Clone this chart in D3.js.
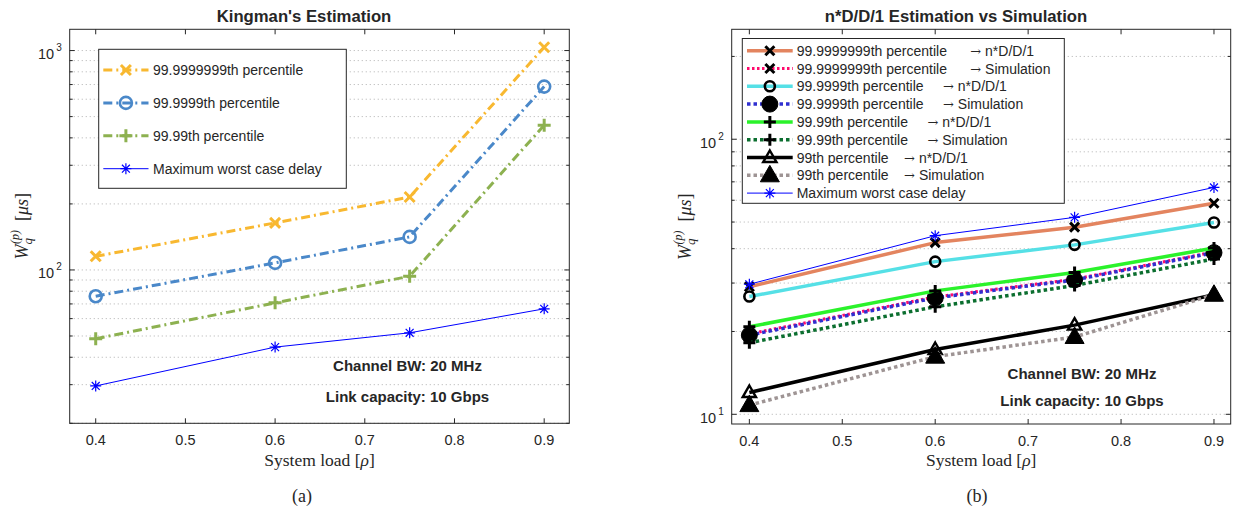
<!DOCTYPE html>
<html>
<head>
<meta charset="utf-8">
<script src="https://cdn.jsdelivr.net/npm/d3@7"></script>
<style>
  body { margin: 0; background: #fff; }
  svg text { font-family: "Liberation Sans", Arial, Helvetica, sans-serif; fill: #262626; }
  svg text.serif { font-family: "Liberation Serif", "Times New Roman", serif; }
</style>
</head>
<body>
<svg id="fig" width="1233" height="508"></svg>
<script>
// ---- data ----
const loads = [0.4, 0.6, 0.75, 0.9];
const xTicks = [0.4, 0.5, 0.6, 0.7, 0.8, 0.9];

// (a) Kingman's estimation
const kingman9 = [115.4, 163.8, 215, 1036];
const kingman6 = [75.9, 107.7, 141.5, 685];
const kingman4 = [48.6, 70.8, 93.6, 457];
const worstA = [29.6, 44.5, 51.7, 66.5];
const labelsA = ["99.9999999th percentile", "99.9999th percentile", "99.99th percentile", "Maximum worst case delay"];

// (b) n*D/D/1 estimation vs simulation
const p9Model = [29.1, 42.1, 47.9, 58.5];
const p9Sim = [19.6, 26.7, 31.0, 38.9];
const p6Model = [26.8, 35.9, 41.3, 49.8];
const p6Sim = [19.4, 26.5, 30.8, 38.7];
const p4Model = [20.8, 28.1, 32.8, 40.2];
const p4Sim = [18.2, 24.6, 29.4, 36.7];
const p2Model = [12.0, 17.2, 21.1, 27.2];
const p2Sim = [10.8, 16.2, 19.1, 27.2];
const worstB = [29.7, 44.6, 52.0, 66.8];
const namesB = ["99.9999999th percentile", "99.9999999th percentile", "99.9999th percentile", "99.9999th percentile",
    "99.99th percentile", "99.99th percentile", "99th percentile", "99th percentile", "Maximum worst case delay"];
const methodsB = ["n*D/D/1", "Simulation", "n*D/D/1", "Simulation", "n*D/D/1", "Simulation", "n*D/D/1", "Simulation", null];
const padB = [6, 6, 5, 5, 5, 5, 4, 4, 0];

const notes = ["Channel BW: 20 MHz", "Link capacity: 10 Gbps"];

const svg = d3.select("#fig");
const axisColor = "#262626";

function markerPath(type, s) {
    if (type === "x") return `M${-s},${-s}L${s},${s}M${-s},${s}L${s},${-s}`;
    if (type === "+") return `M0,${-s}V${s}M${-s},0H${s}`;
    if (type === "*") {
        const k = s * 0.72;
        return `M0,${-s}V${s}M${-s},0H${s}M${-k},${-k}L${k},${k}M${-k},${k}L${k},${-k}`;
    }
    if (type === "^") return `M0,${-s}L${s * 0.95},${s * 0.65}L${-s * 0.95},${s * 0.65}Z`;
    return "";
}

function drawMarker(g, st, cx, cy) {
    if (!st.marker) return;
    if (st.marker === "o") {
        g.append("circle").attr("cx", cx).attr("cy", cy).attr("r", st.msize)
            .attr("fill", st.mfill || "none").attr("stroke", st.mstroke).attr("stroke-width", st.mwidth);
    } else {
        g.append("path").attr("transform", `translate(${cx},${cy})`)
            .attr("d", markerPath(st.marker, st.msize))
            .attr("fill", st.mfill || "none").attr("stroke", st.mstroke)
            .attr("stroke-width", st.mwidth).attr("stroke-linejoin", "miter");
    }
}

function drawPanel(p) {
    const x = d3.scaleLinear().domain(p.xDomain).range([p.left, p.right]);
    const y = d3.scaleLog().domain(p.yDomain).range([p.bottom, p.top]);
    const g = svg.append("g");

    // minor and major values inside the y domain
    const [y0, y1] = p.yDomain;
    const minor = [], major = [];
    for (let d = 1; d <= 1000; d *= 10) {
        for (let k = 1; k <= 9; k++) {
            const v = k * d;
            if (v >= y0 && v <= y1) {
                minor.push(v);
                if (k === 1) major.push(v);
            }
        }
    }

    g.append("rect").attr("x", p.left).attr("y", p.top)
        .attr("width", p.right - p.left).attr("height", p.bottom - p.top).attr("fill", "#fff");

    // dotted horizontal grid
    g.selectAll(".grid").data(minor).enter().append("line")
        .attr("x1", p.left).attr("x2", p.right)
        .attr("y1", d => y(d)).attr("y2", d => y(d))
        .attr("stroke", "#bdbdbd").attr("stroke-width", 1).attr("stroke-dasharray", "1.2,2.8");

    // series
    p.series.forEach(s => {
        const line = d3.line().x((d, i) => x(loads[i])).y(d => y(d));
        g.append("path").datum(s.values).attr("d", line)
            .attr("fill", "none").attr("stroke", s.color).attr("stroke-width", s.width)
            .attr("stroke-dasharray", s.dash || null).attr("stroke-linejoin", "round");
        s.values.forEach((v, i) => drawMarker(g, s, x(loads[i]), y(v)));
    });

    // box and ticks
    g.append("rect").attr("x", p.left).attr("y", p.top)
        .attr("width", p.right - p.left).attr("height", p.bottom - p.top)
        .attr("fill", "none").attr("stroke", axisColor).attr("stroke-width", 1);

    xTicks.forEach(t => {
        g.append("line").attr("x1", x(t)).attr("x2", x(t)).attr("y1", p.bottom).attr("y2", p.bottom - 5)
            .attr("stroke", axisColor);
        g.append("line").attr("x1", x(t)).attr("x2", x(t)).attr("y1", p.top).attr("y2", p.top + 5)
            .attr("stroke", axisColor);
        g.append("text").attr("x", x(t)).attr("y", p.bottom + 22).attr("text-anchor", "middle")
            .attr("font-size", 14.5).text(t.toFixed(1));
    });

    minor.forEach(v => {
        const len = major.includes(v) ? 5 : 3;
        g.append("line").attr("x1", p.left).attr("x2", p.left + len).attr("y1", y(v)).attr("y2", y(v))
            .attr("stroke", axisColor);
        g.append("line").attr("x1", p.right).attr("x2", p.right - len).attr("y1", y(v)).attr("y2", y(v))
            .attr("stroke", axisColor);
    });

    major.forEach(v => {
        const t = g.append("text").attr("x", p.left - 8).attr("y", y(v) + 8.5)
            .attr("text-anchor", "end").attr("font-size", 14.5);
        t.append("tspan").text("10");
        t.append("tspan").attr("font-size", 10).attr("dy", -8).attr("dx", 2).text(Math.round(Math.log10(v)));
    });

    // title
    g.append("text").attr("x", p.titleX).attr("y", 22).attr("text-anchor", "middle")
        .attr("font-size", 16.7).attr("font-weight", "bold").text(p.title);

    // x label
    const xl = g.append("text").attr("class", "serif").attr("x", (p.left + p.right) / 2).attr("y", 466)
        .attr("text-anchor", "middle").attr("font-size", 17.5);
    xl.append("tspan").text("System load [");
    xl.append("tspan").attr("font-style", "italic").text("\u03c1");
    xl.append("tspan").text("]");

    // y label
    const yl = g.append("text").attr("class", "serif")
        .attr("transform", `translate(${p.yLabelX},${(p.top + p.bottom) / 2}) rotate(-90)`)
        .attr("text-anchor", "middle").attr("font-size", 18);
    yl.append("tspan").attr("font-style", "italic").text("W");
    yl.append("tspan").attr("font-style", "italic").attr("font-size", 13).attr("dy", 4).text("q");
    yl.append("tspan").attr("font-style", "italic").attr("font-size", 12).attr("dx", -6).attr("dy", -13).text("(p)");
    yl.append("tspan").attr("dx", 9).attr("dy", 9).text("[");
    yl.append("tspan").attr("font-style", "italic").text("\u03bcs");
    yl.append("tspan").text("]");

    // panel caption
    g.append("text").attr("class", "serif").attr("x", p.captionX).attr("y", 502)
        .attr("text-anchor", "middle").attr("font-size", 18).text(p.caption);

    // annotations
    notes.forEach((n, i) => {
        g.append("text").attr("x", p.noteX).attr("y", p.noteY + i * p.noteStep)
            .attr("text-anchor", "middle").attr("font-size", 15).attr("font-weight", "bold").text(n);
    });

    // legend
    const L = p.legend;
    g.append("rect").attr("x", L.x0).attr("y", L.y0).attr("width", L.x1 - L.x0).attr("height", L.y1 - L.y0)
        .attr("fill", "#fff").attr("stroke", axisColor).attr("stroke-width", 1);
    p.series.forEach((s, i) => {
        const ly = L.rowY + i * L.rowStep;
        g.append("line").attr("x1", L.lineX0).attr("x2", L.lineX1).attr("y1", ly).attr("y2", ly)
            .attr("stroke", s.color).attr("stroke-width", s.width)
            .attr("stroke-dasharray", s.dash || null);
        drawMarker(g, s, (L.lineX0 + L.lineX1) / 2, ly);
        const t = g.append("text").attr("x", L.textX).attr("y", ly + 5).attr("font-size", 14)
            .style("white-space", "pre");
        t.append("tspan").text(s.label);
        if (s.method) {
            t.append("tspan").text(" ".repeat(s.pad));
            t.append("tspan").attr("font-family", "DejaVu Serif").attr("font-size", 13).text("\u2192");
            t.append("tspan").text(" " + s.method);
        }
    });
}

// ---- panel (a) ----
const dashDot = "9,4,2,4";
const seriesA = [
    {values: kingman9, color: "#F8B830", width: 3, dash: dashDot, marker: "x", msize: 5, mstroke: "#F8B830", mwidth: 3},
    {values: kingman6, color: "#4A88C9", width: 3, dash: dashDot, marker: "o", msize: 6, mstroke: "#4A88C9", mwidth: 2.6},
    {values: kingman4, color: "#8DB150", width: 3, dash: dashDot, marker: "+", msize: 6.5, mstroke: "#8DB150", mwidth: 3},
    {values: worstA, color: "#0000FF", width: 1, marker: "*", msize: 5.5, mstroke: "#0000FF", mwidth: 1.2}
].map((s, i) => Object.assign(s, {label: labelsA[i]}));

drawPanel({
    left: 69.7, right: 569.3, top: 29.3, bottom: 423.3,
    xDomain: [0.371, 0.928], yDomain: [20, 1250],
    title: "Kingman's Estimation", titleX: 304, caption: "(a)", captionX: 302,
    yLabelX: 28, noteX: 407.5, noteY: 371, noteStep: 31,
    legend: {x0: 98.7, x1: 346.3, y0: 49.3, y1: 188.3, rowY: 70, rowStep: 32.9, lineX0: 103.3, lineX1: 148.5, textX: 153},
    series: seriesA
});

// ---- panel (b) ----
const dots = "3.5,3";
const seriesB = [
    {values: p9Model, color: "#E3845F", width: 3.5, marker: "x", msize: 4.5, mstroke: "#000", mwidth: 3},
    {values: p9Sim, color: "#FF0A6C", width: 3, dash: "2.5,2.5", marker: "x", msize: 4.5, mstroke: "#000", mwidth: 3},
    {values: p6Model, color: "#55E0E6", width: 3.5, marker: "o", msize: 5, mstroke: "#000", mwidth: 2.6},
    {values: p6Sim, color: "#2F2FD0", width: 3.5, dash: dots, marker: "o", msize: 8, mfill: "#000", mstroke: "#000", mwidth: 1},
    {values: p4Model, color: "#2BF22B", width: 3.5, marker: "+", msize: 6, mstroke: "#000", mwidth: 3},
    {values: p4Sim, color: "#0B6E2F", width: 3.5, dash: dots, marker: "+", msize: 6, mstroke: "#000", mwidth: 3},
    {values: p2Model, color: "#000000", width: 3.5, marker: "^", msize: 7, mstroke: "#000", mwidth: 2.4},
    {values: p2Sim, color: "#9E9494", width: 3.5, dash: dots, marker: "^", msize: 10, mfill: "#000", mstroke: "#000", mwidth: 1},
    {values: worstB, color: "#0000FF", width: 1, marker: "*", msize: 5.5, mstroke: "#0000FF", mwidth: 1.2}
].map((s, i) => Object.assign(s, {label: namesB[i], method: methodsB[i], pad: padB[i]}));

drawPanel({
    left: 731.7, right: 1230.7, top: 29.3, bottom: 424,
    xDomain: [0.381, 0.918], yDomain: [9.22, 251],
    title: "n*D/D/1 Estimation vs Simulation", titleX: 956, caption: "(b)", captionX: 977,
    yLabelX: 691, noteX: 1082, noteY: 378.5, noteStep: 27,
    legend: {x0: 742.3, x1: 1064.3, y0: 38.5, y1: 203.3, rowY: 50.7, rowStep: 17.8, lineX0: 747, lineX1: 792.7, textX: 796.7},
    series: seriesB
});
</script>
</body>
</html>
